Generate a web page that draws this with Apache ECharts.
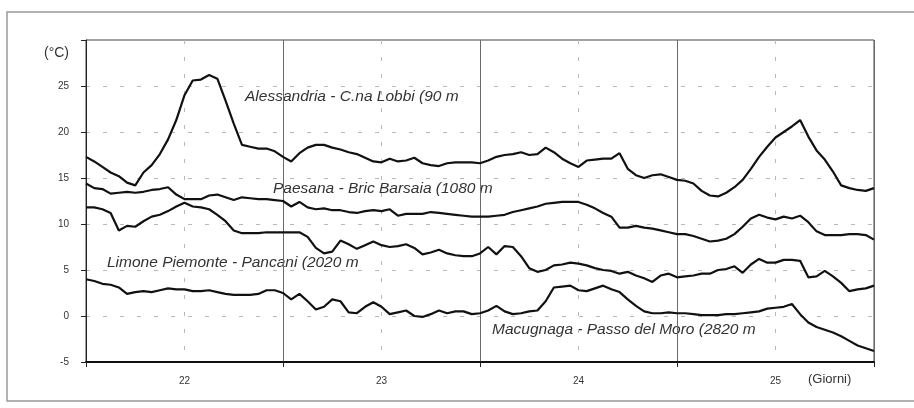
<!DOCTYPE html>
<html><head><meta charset="utf-8">
<script src="https://cdn.jsdelivr.net/npm/echarts@6/dist/echarts.min.js"></script>
<style>html,body{margin:0;padding:0;background:#fff}#c{width:914px;height:408px}</style>
</head><body><div id="c"></div>
<script>
// Hourly readings, hour 0 = start of day 22, hour 96 = end of day 25
const dayLabels = ['22', '23', '24', '25'];
const yMin = -5, yMax = 30, yStep = 5;
const seriesNames = [
  'Alessandria - C.na Lobbi (90 m',
  'Paesana - Bric Barsaia (1080 m',
  'Limone Piemonte - Pancani (2020 m',
  'Macugnaga - Passo del Moro (2820 m'
];
const alessandria = [
  17.3, 16.8, 16.2, 15.6, 15.2, 14.5, 14.2, 15.6, 16.4, 17.6, 19.2, 21.3, 24.0, 25.6, 25.7, 26.2, 25.8, 23.4, 20.9, 18.6, 18.4, 18.2, 18.2, 17.9, 17.3,
  16.8, 17.7, 18.3, 18.6, 18.6, 18.3, 18.1, 17.8, 17.6, 17.2, 16.8, 16.7, 17.1, 16.8, 16.9, 17.2, 16.6, 16.4, 16.3, 16.6, 16.7, 16.7, 16.7, 16.6,
  16.9, 17.3, 17.5, 17.6, 17.8, 17.5, 17.6, 18.3, 17.8, 17.1, 16.6, 16.2, 16.9, 17.0, 17.1, 17.1, 17.7, 16.0, 15.3, 15.0, 15.3, 15.4, 15.1, 14.8,
  14.7, 14.4, 13.6, 13.1, 13.0, 13.4, 14.0, 14.8, 16.0, 17.3, 18.4, 19.4, 20.0, 20.6, 21.3, 19.5, 18.0, 17.0, 15.7, 14.2, 13.9, 13.7, 13.6, 13.9
];
const paesana = [
  14.4, 13.9, 13.8, 13.3, 13.4, 13.5, 13.4, 13.5, 13.7, 13.8, 14.0, 13.2, 12.7, 12.7, 12.7, 13.1, 13.2, 12.9, 12.6, 12.9, 12.8, 12.7, 12.7, 12.6, 12.5,
  11.9, 12.4, 11.8, 11.6, 11.7, 11.5, 11.5, 11.3, 11.2, 11.4, 11.5, 11.4, 11.6, 10.9, 11.1, 11.1, 11.1, 11.3, 11.2, 11.1, 11.0, 10.9, 10.8, 10.8,
  10.8, 10.9, 11.0, 11.3, 11.5, 11.7, 11.9, 12.2, 12.3, 12.4, 12.4, 12.4, 12.1, 11.7, 11.2, 10.8, 9.6, 9.6, 9.8, 9.6, 9.5, 9.3, 9.1, 8.9,
  8.9, 8.7, 8.4, 8.1, 8.2, 8.4, 8.9, 9.7, 10.6, 11.0, 10.7, 10.5, 10.8, 10.6, 10.9, 10.2, 9.2, 8.8, 8.8, 8.8, 8.9, 8.9, 8.8, 8.3
];
const limone = [
  11.8, 11.8, 11.6, 11.2, 9.3, 9.8, 9.7, 10.3, 10.8, 11.0, 11.4, 11.9, 12.3, 11.9, 11.8, 11.6, 11.0, 10.3, 9.3, 9.0, 9.0, 9.0, 9.1, 9.1, 9.1,
  9.1, 9.1, 8.6, 7.4, 6.8, 7.0, 8.2, 7.8, 7.3, 7.7, 8.1, 7.7, 7.5, 7.6, 7.8, 7.4, 6.7, 6.9, 7.2, 6.8, 6.6, 6.5, 6.5, 6.8,
  7.5, 6.7, 7.6, 7.5, 6.5, 5.2, 4.8, 5.0, 5.5, 5.6, 5.8, 5.7, 5.5, 5.2, 5.0, 4.9, 4.6, 4.8, 4.4, 4.1, 3.7, 4.4, 4.6, 4.2,
  4.3, 4.4, 4.6, 4.6, 5.0, 5.1, 5.4, 4.7, 5.6, 6.2, 5.8, 5.8, 6.1, 6.1, 6.0, 4.2, 4.3, 4.9, 4.3, 3.6, 2.7, 2.9, 3.0, 3.3
];
const macugnaga = [
  4.0, 3.8, 3.5, 3.4, 3.1, 2.4, 2.6, 2.7, 2.6, 2.8, 3.0, 2.9, 2.9, 2.7, 2.7, 2.8, 2.6, 2.4, 2.3, 2.3, 2.3, 2.4, 2.8, 2.8, 2.5,
  1.8, 2.4, 1.6, 0.7, 1.0, 1.8, 1.6, 0.4, 0.3, 1.0, 1.5, 1.0, 0.2, 0.4, 0.6, 0.0, -0.1, 0.2, 0.6, 0.3, 0.5, 0.5, 0.2, 0.3,
  0.6, 1.1, 0.5, 0.2, 0.3, 0.5, 0.6, 1.6, 3.1, 3.2, 3.3, 2.8, 2.7, 3.0, 3.3, 2.9, 2.6, 1.8, 1.1, 0.5, 0.3, 0.3, 0.4, 0.3,
  0.3, 0.2, 0.1, 0.1, 0.1, 0.2, 0.2, 0.3, 0.4, 0.5, 0.8, 0.9, 1.0, 1.3, 0.2, -0.7, -1.2, -1.5, -1.8, -2.2, -2.7, -3.2, -3.5, -3.8
];

const allSeries = [alessandria, paesana, limone, macugnaga];
const toPairs = arr => arr.map((v, i) => [i, v]);
const FONT = '"Liberation Sans", Arial, sans-serif';

const chart = echarts.init(document.getElementById('c'), null, { renderer: 'canvas' });
const ySplitColors = [];
for (let v = yMin; v <= yMax; v += yStep) ySplitColors.push((v === yMin || v === yMax) ? 'rgba(0,0,0,0)' : '#b8b8b8');

chart.setOption({
  animation: false,
  backgroundColor: '#fff',
  grid: { left: 86, right: 40, top: 40, bottom: 46, show: true, borderColor: '#444', borderWidth: 1 },
  xAxis: [
    {
      type: 'value', min: 0, max: 96, interval: 24,
      axisLine: { show: true, onZero: false, lineStyle: { color: '#111', width: 2 } },
      axisTick: { show: true, length: 5, lineStyle: { color: '#222', width: 1 } },
      axisLabel: { show: false },
      splitLine: { show: true, lineStyle: { color: '#6a6a6a', width: 1 } }
    },
    {
      type: 'value', min: 0, max: 96, interval: 12, position: 'bottom', offset: 0,
      axisLine: { show: false, onZero: false }, axisTick: { show: false },
      axisLabel: {
        show: true, margin: 14, color: '#333', fontSize: 10, fontFamily: FONT,
        formatter: v => (v % 24 === 12) ? dayLabels[(v - 12) / 24] : ''
      },
      splitLine: { show: true, lineStyle: { color: ['rgba(0,0,0,0)', '#b8b8b8'], type: [4, 13], width: 1 } }
    }
  ],
  yAxis: {
    type: 'value', min: yMin, max: yMax, interval: yStep,
    axisLine: { show: true, onZero: false, lineStyle: { color: '#222', width: 1 } },
    axisTick: { show: true, length: 5, lineStyle: { color: '#222' } },
    axisLabel: { margin: 17, color: '#333', fontSize: 10, fontFamily: FONT, formatter: v => v === yMax ? '' : String(v) },
    splitLine: { show: true, lineStyle: { color: ySplitColors, type: [4, 13], width: 1 } }
  },
  series: allSeries.map((arr, i) => ({
    name: seriesNames[i], type: 'line', xAxisIndex: 0, data: toPairs(arr),
    showSymbol: false, smooth: false,
    lineStyle: { color: '#111', width: 2.2 }, z: 5
  })),
  graphic: [
    { type: 'rect', shape: { x: 7, y: 12, width: 930, height: 389 }, style: { fill: 'none', stroke: '#999', lineWidth: 1.5 }, silent: true },
    { type: 'text', left: 44, top: 46, style: { text: '(°C)', fontSize: 14, fill: '#333', fontFamily: FONT } },
    { type: 'text', left: 808, top: 373, style: { text: '(Giorni)', fontSize: 13, fill: '#333', fontFamily: FONT } },
    { type: 'text', left: 245, top: 89, style: { text: seriesNames[0], fontSize: 15.5, fontStyle: 'italic', fill: '#333', fontFamily: FONT } },
    { type: 'text', left: 273, top: 181, style: { text: seriesNames[1], fontSize: 15.5, fontStyle: 'italic', fill: '#333', fontFamily: FONT } },
    { type: 'text', left: 107, top: 255, style: { text: seriesNames[2], fontSize: 15.5, fontStyle: 'italic', fill: '#333', fontFamily: FONT } },
    { type: 'text', left: 492, top: 322, style: { text: seriesNames[3], fontSize: 15.5, fontStyle: 'italic', fill: '#333', fontFamily: FONT } }
  ]
});
</script></body></html>
